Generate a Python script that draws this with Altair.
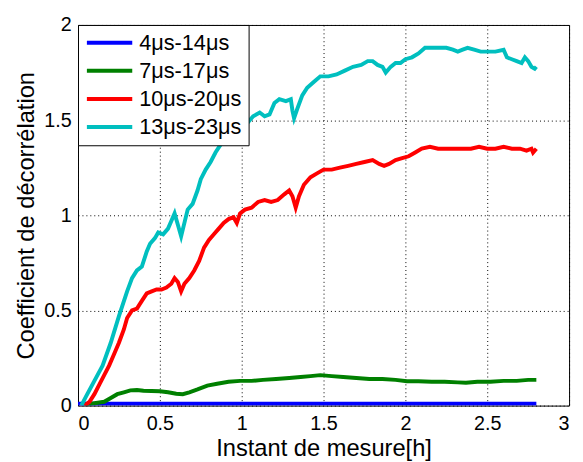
import altair as alt
import pandas as pd

series_names = ["4μs-14μs", "7μs-17μs", "10μs-20μs", "13μs-23μs"]
series_colors = ["#0000FF", "#008000", "#FF0000", "#00BFBF"]

blue_x = [0.0, 0.5, 1.0, 1.5, 2.0, 2.5, 2.8]
blue_y = [0.01, 0.01, 0.01, 0.01, 0.01, 0.01, 0.01]

green_x = [0.04, 0.08, 0.12, 0.16, 0.20, 0.24, 0.28, 0.32, 0.36, 0.40, 0.45, 0.50, 0.55, 0.60,
           0.64, 0.68, 0.73, 0.79, 0.85, 0.92, 0.99, 1.06, 1.13, 1.21, 1.29, 1.36, 1.42, 1.48,
           1.55, 1.62, 1.70, 1.78, 1.86, 1.94, 2.01, 2.08, 2.16, 2.24, 2.32, 2.37, 2.44, 2.52,
           2.60, 2.68, 2.75, 2.80]
green_y = [0.005, 0.01, 0.015, 0.02, 0.04, 0.06, 0.07, 0.08, 0.082, 0.078, 0.077, 0.075, 0.07, 0.062,
           0.06, 0.07, 0.085, 0.105, 0.115, 0.125, 0.13, 0.13, 0.135, 0.14, 0.145, 0.15, 0.155, 0.16,
           0.155, 0.15, 0.145, 0.14, 0.14, 0.135, 0.128, 0.128, 0.125, 0.125, 0.122, 0.12, 0.125, 0.125,
           0.13, 0.13, 0.135, 0.135]

red_x = [0.04, 0.07, 0.10, 0.13, 0.16, 0.19, 0.22, 0.25, 0.28, 0.30, 0.33, 0.36, 0.39, 0.42,
         0.45, 0.48, 0.51, 0.54, 0.57, 0.59, 0.61, 0.63, 0.65, 0.68, 0.71, 0.74, 0.77, 0.80,
         0.83, 0.86, 0.89, 0.92, 0.95, 0.97, 0.99, 1.02, 1.06, 1.10, 1.14, 1.18, 1.22, 1.26,
         1.29, 1.31, 1.33, 1.35, 1.38, 1.42, 1.46, 1.50, 1.55, 1.60, 1.65, 1.70, 1.75, 1.80,
         1.84, 1.87, 1.90, 1.94, 1.98, 2.02, 2.06, 2.10, 2.15, 2.20, 2.25, 2.30, 2.35, 2.40,
         2.45, 2.50, 2.55, 2.60, 2.65, 2.70, 2.74, 2.77, 2.78, 2.80]
red_y = [0.0, 0.02, 0.06, 0.11, 0.16, 0.21, 0.27, 0.33, 0.40, 0.46, 0.50, 0.51, 0.55, 0.59,
         0.60, 0.61, 0.61, 0.62, 0.64, 0.67, 0.65, 0.60, 0.64, 0.67, 0.71, 0.76, 0.83, 0.87,
         0.90, 0.93, 0.96, 0.98, 0.99, 0.96, 1.01, 1.03, 1.04, 1.07, 1.08, 1.07, 1.08, 1.11,
         1.13, 1.10, 1.04, 1.10, 1.16, 1.20, 1.22, 1.24, 1.24, 1.25, 1.26, 1.27, 1.28, 1.29,
         1.27, 1.26, 1.27, 1.29, 1.30, 1.31, 1.33, 1.35, 1.36, 1.35, 1.35, 1.35, 1.35, 1.35,
         1.36, 1.35, 1.35, 1.36, 1.35, 1.35, 1.34, 1.35, 1.33, 1.35]

cyan_x = [0.02, 0.05, 0.10, 0.15, 0.20, 0.25, 0.30, 0.33, 0.36, 0.39, 0.42, 0.44, 0.47, 0.49,
          0.52, 0.55, 0.57, 0.59, 0.61, 0.63, 0.65, 0.67, 0.70, 0.73, 0.75, 0.78, 0.81, 0.84,
          0.87, 0.90, 0.94, 0.98, 1.03, 1.07, 1.11, 1.14, 1.17, 1.20, 1.23, 1.27, 1.30, 1.31,
          1.32, 1.34, 1.37, 1.40, 1.44, 1.48, 1.53, 1.58, 1.63, 1.68, 1.73, 1.77, 1.80, 1.83,
          1.86, 1.88, 1.91, 1.94, 1.97, 2.00, 2.04, 2.08, 2.12, 2.16, 2.20, 2.25, 2.29, 2.32,
          2.35, 2.38, 2.42, 2.46, 2.50, 2.55, 2.60, 2.62, 2.65, 2.68, 2.71, 2.73, 2.75, 2.77,
          2.79, 2.80]
cyan_y = [0.0, 0.05, 0.13, 0.21, 0.33, 0.47, 0.60, 0.67, 0.71, 0.73, 0.81, 0.85, 0.88, 0.91,
          0.90, 0.93, 0.97, 1.01, 0.95, 0.89, 0.96, 1.03, 1.06, 1.13, 1.19, 1.24, 1.28, 1.33,
          1.37, 1.41, 1.44, 1.46, 1.48, 1.52, 1.54, 1.52, 1.53, 1.59, 1.61, 1.60, 1.61, 1.55,
          1.51, 1.56, 1.63, 1.67, 1.70, 1.73, 1.73, 1.74, 1.76, 1.78, 1.79, 1.81, 1.81, 1.79,
          1.78, 1.75, 1.78, 1.80, 1.80, 1.82, 1.83, 1.85, 1.88, 1.88, 1.88, 1.88, 1.87, 1.86,
          1.87, 1.88, 1.87, 1.86, 1.86, 1.86, 1.87, 1.83, 1.82, 1.81, 1.80, 1.83, 1.81, 1.78,
          1.77, 1.78]

x_ticks = [0, 0.5, 1, 1.5, 2, 2.5, 3]
y_ticks = [0, 0.5, 1, 1.5, 2]

rows = []
for name, xs, ys in zip(series_names, [blue_x, green_x, red_x, cyan_x], [blue_y, green_y, red_y, cyan_y]):
    for i, (xv, yv) in enumerate(zip(xs, ys)):
        rows.append({"series": name, "x": xv, "y": yv, "i": i})
df = pd.DataFrame(rows)

FONT = "Liberation Sans"

chart = alt.Chart(df).mark_line(strokeWidth=4, clip=True).encode(
    x=alt.X("x:Q", scale=alt.Scale(domain=[0, 3], nice=False),
            axis=alt.Axis(values=x_ticks, title="Instant de mesure[h]", labelExpr="datum.value + ''",
                          labelPadding=8, titlePadding=4)),
    y=alt.Y("y:Q", scale=alt.Scale(domain=[0, 2], nice=False),
            axis=alt.Axis(values=y_ticks, title="Coefficient de décorrélation", labelExpr="datum.value + ''",
                          labelPadding=7, titlePadding=5)),
    color=alt.Color("series:N", scale=alt.Scale(domain=series_names, range=series_colors),
                    legend=alt.Legend(title=None, orient="top-left", offset=0, fillColor="white",
                                      strokeColor="black", padding=7, symbolType="stroke",
                                      symbolStrokeWidth=4, symbolSize=2116, clipHeight=22,
                                      labelFontSize=22, labelFont=FONT, labelColor="black",
                                      rowPadding=6.5, labelOffset=5)),
    order="i:Q",
).properties(
    width=498, height=386,
    autosize=alt.AutoSizeParams(type="none"),
    padding={"left": 71, "top": 14, "right": 6, "bottom": 54},
).configure_view(
    stroke="black", strokeWidth=1
).configure_axis(
    domain=False, ticks=False, grid=True, gridColor="black", gridDash=[1, 3], gridOpacity=1,
    gridWidth=1, labelFont=FONT, labelFontSize=20, labelColor="black",
    titleFont=FONT, titleFontSize=24, titleColor="black", titleFontWeight="normal",
)

chart.save("out.html", embed_options={"renderer": "svg", "actions": False})
